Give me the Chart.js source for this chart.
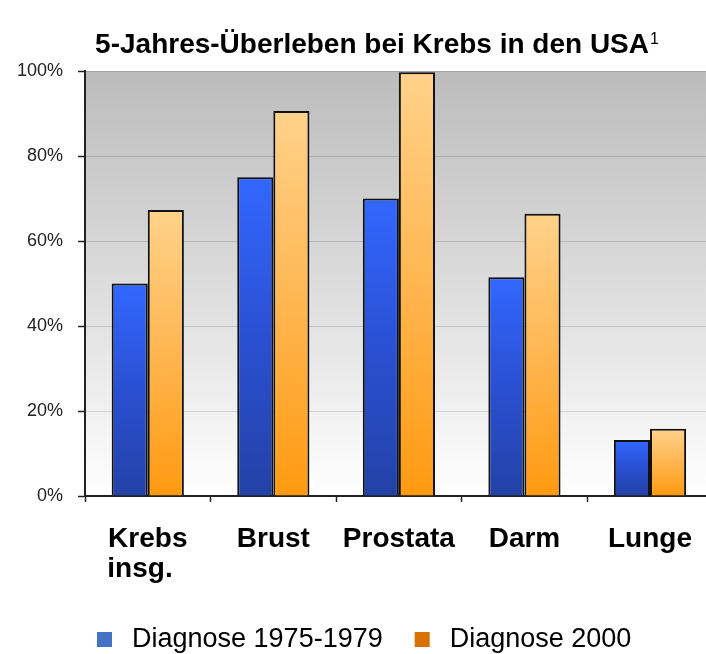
<!DOCTYPE html>
<html>
<head>
<meta charset="utf-8">
<style>
  html, body { margin: 0; padding: 0; background: #fff; overflow: hidden; }
  #wrap { width: 714px; height: 654px; }
</style>
<script src="https://cdn.jsdelivr.net/npm/chart.js@4.4.1/dist/chart.umd.min.js"></script>
</head>
<body>
<div id="wrap"><canvas id="c" width="714" height="654"></canvas></div>
<script>
// ---- data ----
const titleText = "5-Jahres-Überleben bei Krebs in den USA";
const titleSup = "1";
const categories = [["Krebs", "insg.  "], "Brust", "Prostata", "Darm", "Lunge"];
const seriesLabels = ["Diagnose 1975-1979", "Diagnose 2000"];
const values1975 = [50, 75, 70, 51.5, 13.2];
const values2000 = [67.3, 90.6, 99.7, 66.4, 15.8];
const yTickValues = [0, 20, 40, 60, 80, 100];

// ---- styles ----
const FONT = "'Liberation Sans', Arial, sans-serif";
const legendColors = ["#4472C4", "#D87100"];
const barStops = [
  ["#3267FF", "#2A50D2", "#2342A6"],
  ["#FFD28A", "#FFB650", "#FF9A10"]
];

function barGradient(stops) {
  return function (ctx) {
    if (ctx.type !== 'data') return stops[1];
    const chart = ctx.chart;
    const ys = chart.scales && chart.scales.y;
    if (!ys || ys.bottom === undefined) return stops[1];
    const yTop = ys.getPixelForValue(ctx.raw);
    const yBot = ys.getPixelForValue(0);
    if (!isFinite(yTop) || !isFinite(yBot) || yBot - yTop < 1) return stops[1];
    const g = chart.ctx.createLinearGradient(0, yTop, 0, yBot);
    g.addColorStop(0, stops[0]);
    g.addColorStop(0.5, stops[1]);
    g.addColorStop(1, stops[2]);
    return g;
  };
}

const bgPlugin = {
  id: 'plotBg',
  beforeDraw(chart) {
    const a = chart.chartArea;
    const ctx = chart.ctx;
    const g = ctx.createLinearGradient(0, a.top, 0, a.bottom);
    g.addColorStop(0, '#bcbcbc');
    g.addColorStop(0.5, '#dcdcdc');
    g.addColorStop(1, '#ffffff');
    ctx.save();
    ctx.fillStyle = g;
    ctx.fillRect(a.left, a.top, a.right - a.left, a.bottom - a.top);
    ctx.restore();
  }
};

const textPlugin = {
  id: 'titleLegend',
  afterDraw(chart) {
    const ctx = chart.ctx;
    ctx.save();
    // title
    ctx.fillStyle = '#000';
    ctx.textBaseline = 'alphabetic';
    ctx.textAlign = 'left';
    ctx.font = "bold 28px " + FONT;
    const tw = ctx.measureText(titleText).width;
    ctx.font = "16px " + FONT;
    const sw = ctx.measureText(titleSup).width;
    const tx = 377 - (tw + sw + 1) / 2;
    ctx.font = "bold 28px " + FONT;
    ctx.fillText(titleText, tx, 53);
    ctx.font = "16px " + FONT;
    ctx.fillText(titleSup, tx + tw + 1, 44);

    // legend
    ctx.font = "27px " + FONT;
    let x = 97;
    chart.data.datasets.forEach((ds, i) => {
      ctx.fillStyle = legendColors[i];
      ctx.fillRect(x, 632, 15, 15);
      ctx.fillStyle = '#000';
      ctx.fillText(ds.label, x + 35, 647);
      x += 35 + ctx.measureText(ds.label).width + 32;
    });
    ctx.restore();
  }
};

new Chart(document.getElementById('c'), {
  type: 'bar',
  data: {
    labels: categories,
    datasets: [
      {
        label: seriesLabels[0],
        data: values1975,
        backgroundColor: barGradient(barStops[0]),
        borderColor: '#111',
        borderWidth: 2,
        categoryPercentage: 0.575,
        barPercentage: 1.0
      },
      {
        label: seriesLabels[1],
        data: values2000,
        backgroundColor: barGradient(barStops[1]),
        borderColor: '#111',
        borderWidth: 2,
        categoryPercentage: 0.575,
        barPercentage: 1.0
      }
    ]
  },
  options: {
    responsive: false,
    devicePixelRatio: 1,
    animation: false,
    layout: { padding: { top: 71, left: 0, right: 0, bottom: 0 } },
    plugins: {
      legend: { display: false },
      title: { display: false },
      tooltip: { enabled: false }
    },
    scales: {
      x: {
        grid: {
          display: true,
          drawOnChartArea: false,
          drawTicks: true,
          tickLength: 6,
          tickColor: '#222',
          tickWidth: 1.5
        },
        border: { color: '#222', width: 2 },
        ticks: {
          color: '#000',
          font: { family: FONT, size: 28, weight: 'bold', lineHeight: 1.07 },
          padding: 22,
          maxRotation: 0,
          autoSkip: false
        },
        afterFit(scale) { scale.height = 158; }
      },
      y: {
        min: 0,
        max: 100,
        afterBuildTicks(scale) { scale.ticks = yTickValues.map(v => ({ value: v })); },
        grid: {
          color: 'rgba(0,0,0,0.13)',
          lineWidth: 1,
          tickLength: 7,
          tickColor: '#222',
          tickWidth: 1.5
        },
        border: { color: '#222', width: 2 },
        ticks: {
          color: '#222',
          font: { family: FONT, size: 18 },
          padding: 15,
          callback: v => v + '%'
        },
        afterFit(scale) { scale.width = 85; }
      }
    }
  },
  plugins: [bgPlugin, textPlugin]
});
</script>
</body>
</html>
